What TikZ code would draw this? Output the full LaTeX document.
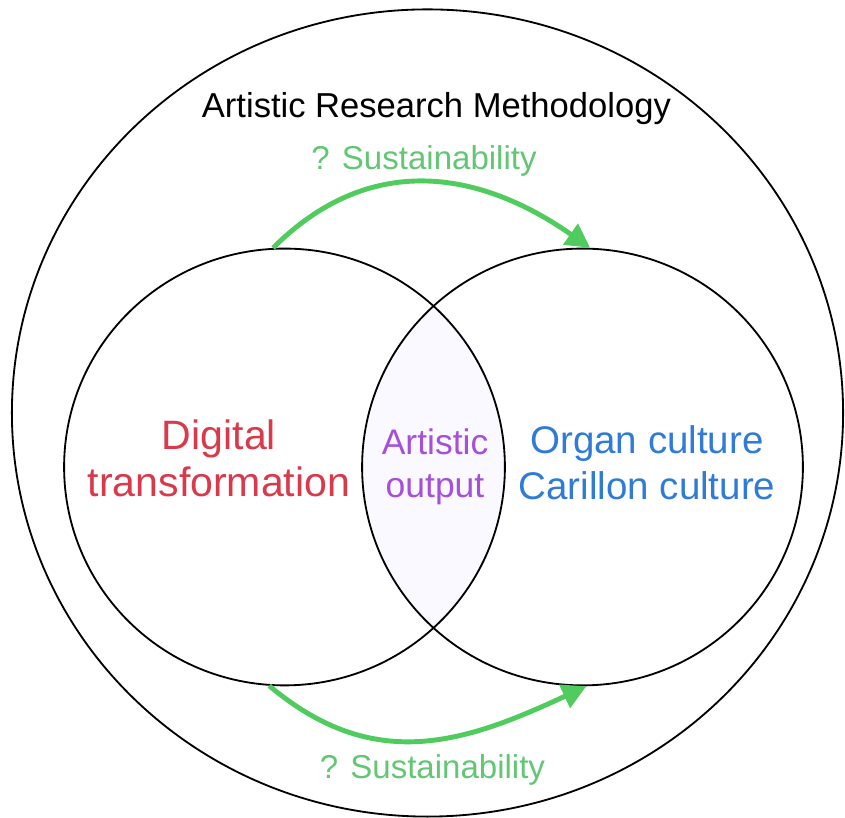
\documentclass[tikz,border=0pt]{standalone}
\usepackage{fontspec}
\setmainfont{Liberation Sans}
\usetikzlibrary{shapes.geometric,arrows.meta}
\definecolor{sustgreen}{HTML}{50CC5E}
\definecolor{sustlabel}{HTML}{62C674}
\definecolor{digred}{HTML}{D8394B}
\definecolor{artpurple}{HTML}{A64FD9}
\definecolor{cultblue}{HTML}{2F7BD5}
\definecolor{lensfill}{HTML}{FAF9FF}
\tikzset{
	venn/.style={ellipse,draw,line width=1.3pt,minimum width=11.02cm,minimum height=10.92cm,inner sep=0pt},
	flow/.style={sustgreen,line width=3.5pt,-{Triangle[length=6mm,width=6.2mm]}},
	sust/.style={text=sustlabel,font=\fontsize{23.5}{28}\selectfont,anchor=base}
}
\begin{document}
\begin{tikzpicture}
							\useasboundingbox (0,0) rectangle (21.125,20.45);
							\coordinate (cdig) at (7.1125,8.775);
							\coordinate (corg) at (14.5625,8.775);

							% shaded overlap
							\begin{scope}
								\clip (cdig) ellipse [x radius=5.51cm,y radius=5.46cm];
								\fill [lensfill] (corg) ellipse [x radius=5.51cm,y radius=5.46cm];
							\end{scope}

							\node [ellipse,draw,line width=1.3pt,minimum width=20.78cm,minimum height=20.18cm] (arm) at (10.6875,10.125) {};
							\node [venn] (dig) at (cdig) {};
							\node [venn] (org) at (corg) {};

							\node [anchor=base,font=\fontsize{24.6}{29}\selectfont] (title) at (10.91,17.5) {Artistic Research Methodology};
							\node [text=digred,align=center,font=\fontsize{29.2}{33.4}\selectfont] (digtxt) at (5.475,8.99) {Digital\\transformation};
							\node [text=artpurple,align=center,font=\fontsize{25.25}{30.6}\selectfont] (arttxt) at (10.875,8.775) {Artistic\\output};
							\node [text=cultblue,align=center,font=\fontsize{27.4}{32.7}\selectfont] (orgtxt) at (16.175,8.875) {Organ culture\\Carillon culture};

							\node [sust] (sustup) at (10.6,16.2) {? Sustainability};
							\node [sust] (sustdown) at (10.81,0.975) {? Sustainability};

							\draw [flow] (dig.93.4) to [out=45,in=145,looseness=1.1] (org.88.5);
							\draw [flow] (dig.266.6) to [out=-40,in=-155,looseness=1.1] (org.271.3);
						\end{tikzpicture}
\end{document}
